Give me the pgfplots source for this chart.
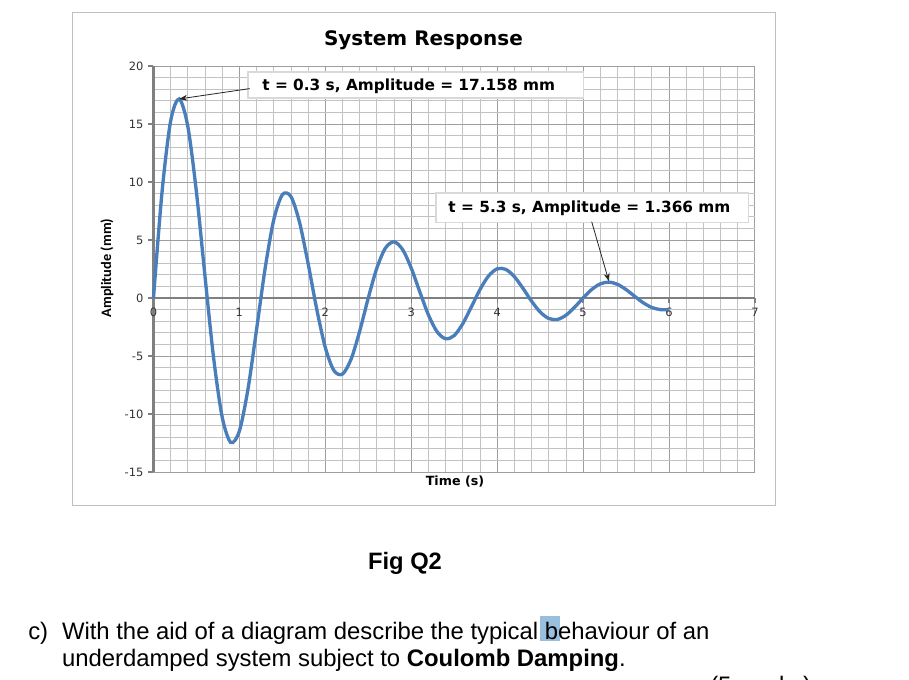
\documentclass[border=0pt]{standalone}
\usepackage{fontspec}
\setmainfont{DejaVu Sans}
\newfontfamily\calibri{Carlito}
\newfontfamily\arial{Liberation Sans}
\usepackage{pgfplots}
\usepackage{pgfplotstable}
\pgfplotsset{compat=1.18}
\usetikzlibrary{arrows.meta}

\definecolor{excelblue}{RGB}{74,126,187}
\definecolor{hilite}{RGB}{153,190,222}

% selection highlight behind " b" in the question text
\newcommand\hlb{\makebox[0pt][l]{\hspace{1pt}\textcolor{hilite}{\rule[-0.6pt]{15pt}{18.5pt}}}}

% displacement, 0.1 s steps
\pgfplotstableread{
t y
0.0 0
0.1 9.160
0.2 15.261
0.3 17.158
0.4 14.780
0.5 9.128
0.6 1.850
0.7 -5.166
0.8 -10.280
0.9 -12.459
1.0 -11.469
1.1 -7.847
1.2 -2.710
1.3 2.577
1.4 6.742
1.5 8.905
1.6 8.743
1.7 6.520
1.8 2.961
1.9 -0.958
2.0 -4.273
2.1 -6.253
2.2 -6.557
2.3 -5.274
2.4 -2.861
2.5 0
2.6 2.586
2.7 4.307
2.8 4.840
2.9 4.172
3.0 2.576
3.1 0.522
3.2 -1.458
3.3 -2.902
3.4 -3.517
3.5 -3.237
3.6 -2.215
3.7 -0.765
3.8 0.727
3.9 1.903
4.0 2.513
4.1 2.468
4.2 1.840
4.3 0.836
4.4 -0.270
4.5 -1.206
4.6 -1.765
4.7 -1.851
4.8 -1.488
4.9 -0.807
5.0 0
5.1 0.730
5.2 1.216
5.3 1.366
5.4 1.177
5.5 0.727
5.6 0.147
5.7 -0.412
5.8 -0.819
5.9 -1.000
6.0 -1.000
}\response

\begin{document}
\begin{tikzpicture}
\path[use as bounding box, fill=white] (0,0) rectangle (681.75pt,510pt);
\draw[black!25, line width=1pt] (54.4pt,500.6pt) rectangle (581.6pt,130.9pt);

\node[font=\bfseries\fontsize{15}{18}\selectfont] at (317.6pt,480pt) {System Response};

\begin{axis}[
    at={(115.1pt,156pt)}, anchor=south west,
    scale only axis, width=451.1pt, height=304.5pt,
    xmin=0, xmax=7, ymin=-15, ymax=20,
    axis x line*=middle, axis y line*=left,
    hide obscured x ticks=false,
    xtick={0,...,7}, ytick={-15,-10,...,20},
    minor x tick num=4, minor y tick num=4,
    grid=both,
    major grid style={black!38, line width=0.7pt},
    minor grid style={black!24, line width=0.6pt},
    axis line style={black!50, line width=2.2pt},
    tick align=outside,
    major tick length=4pt, minor tick length=0pt,
    tick style={black!50, line width=1pt},
    ticklabel style={font=\fontsize{8.6}{10}\selectfont, text=black!80},
    /pgf/number format/assume math mode=true,
    clip=false,
  ]

  \addplot[smooth, color=excelblue, line width=2.5pt] table[x=t, y=y] {\response};

  \draw[black!15, fill=white, line width=0.8pt] (axis cs:1.10,17.24) rectangle (axis cs:5.00,19.48);
  \node[font=\bfseries\fontsize{11.5}{13}\selectfont] at (axis cs:2.97,18.28) {t = 0.3 s, Amplitude = 17.158 mm};
  \draw[-{Stealth[length=6pt,width=4.5pt]}, black!85, line width=0.6pt] (axis cs:1.12,18.05) -- (axis cs:0.3,17.158);

  \draw[black!15, fill=white, line width=0.8pt] (axis cs:3.288,6.47) rectangle (axis cs:6.93,9.05);
  \node[font=\bfseries\fontsize{11.5}{13}\selectfont] at (axis cs:5.074,7.76) {t = 5.3 s, Amplitude = 1.366 mm};
  \draw[-{Stealth[length=6pt,width=4.5pt]}, black!85, line width=0.6pt] (axis cs:5.10,6.58) -- (axis cs:5.3,1.45);
\end{axis}

\node[rotate=90, font=\calibri\bfseries\fontsize{10.8}{12}\selectfont] at (80.25pt,309pt) {Amplitude (mm)};
\node[font=\bfseries\fontsize{9.5}{11}\selectfont] at (341.25pt,148.5pt) {Time (s)};

\node[anchor=base, font=\arial\bfseries\fontsize{17.8}{20}\selectfont] at (303.75pt,82.5pt) {Fig Q2};

\node[anchor=base west, inner sep=0pt, font=\arial\fontsize{17.9}{20}\selectfont] at (21pt,30pt) {c)};
\node[anchor=base west, inner sep=0pt, font=\arial\fontsize{17.9}{20}\selectfont] at (46.3pt,30pt) {With the aid of a diagram describe the typical\hlb{} behaviour of an};
\node[anchor=base west, inner sep=0pt, font=\arial\fontsize{17.9}{20}\selectfont] at (46.3pt,10pt) {underdamped system subject to \textbf{Coulomb Damping}.};
\node[anchor=base west, inner sep=0pt, font=\arial\fontsize{17.9}{20}\selectfont] at (532.5pt,-10.5pt) {(5 marks)};
\end{tikzpicture}
\end{document}
